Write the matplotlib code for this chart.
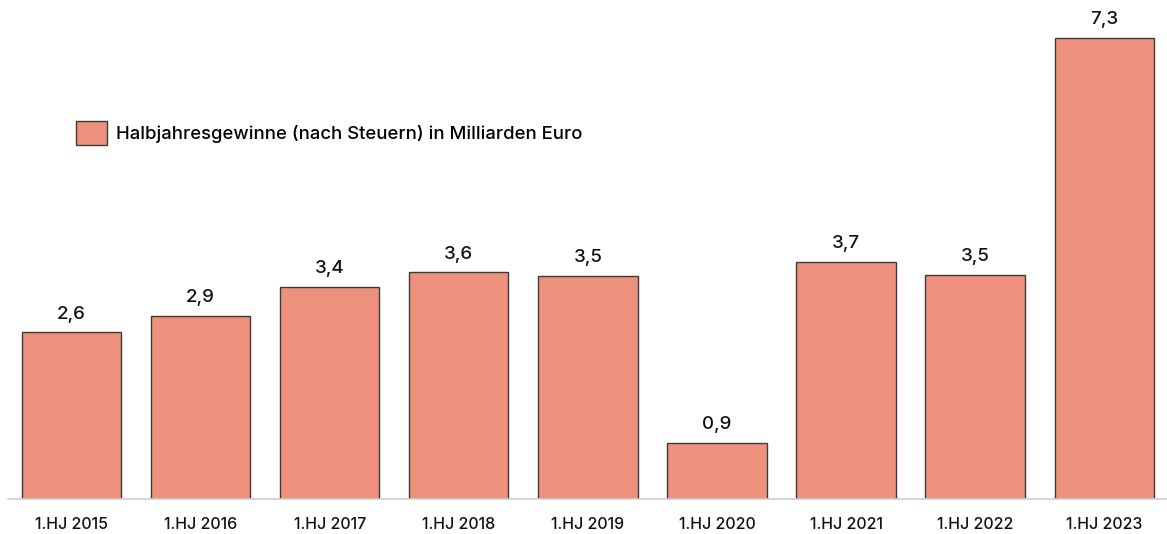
import matplotlib.pyplot as plt
import numpy as np

plt.rcParams['font.family'] = ['Inter', 'DejaVu Sans']

categories = ['1.HJ 2015', '1.HJ 2016', '1.HJ 2017', '1.HJ 2018', '1.HJ 2019',
              '1.HJ 2020', '1.HJ 2021', '1.HJ 2022', '1.HJ 2023']
# bar heights, labels as printed
values = [2.64, 2.90, 3.36, 3.59, 3.53, 0.89, 3.75, 3.55, 7.3]
value_labels = ['2,6', '2,9', '3,4', '3,6', '3,5', '0,9', '3,7', '3,5', '7,3']
series_name = 'Halbjahresgewinne (nach Steuern) in Milliarden Euro'

fig = plt.figure(figsize=(11.67, 5.34), dpi=100)
ax = fig.add_axes([8 / 1167, 35 / 534, 1 - 8 / 1167, 499 / 534])

x = np.arange(len(categories))
bars = ax.bar(x, values, width=0.77, color='#EE917C', edgecolor='#3a3a3a',
              linewidth=1.0, label=series_name)

ax.bar_label(bars, labels=value_labels, padding=7, fontsize=13.5,
             color='#111111', fontweight='medium')

ax.set_xlim(-0.492, 8.486)
ax.set_ylim(0, 7.9)
ax.set_xticks(x)
ax.set_xticklabels(categories, fontsize=11.5, color='#111111', fontweight='medium')
ax.tick_params(axis='x', length=0, pad=13)
ax.set_yticks([])
for side in ['top', 'right', 'left']:
    ax.spines[side].set_visible(False)
ax.spines['bottom'].set_color('#d0d0d0')
ax.spines['bottom'].set_linewidth(1.2)

ax.legend(loc='upper left', bbox_to_anchor=(0.0587, 0.758), frameon=False,
          prop={'size': 13.3, 'weight': 'medium'}, handlelength=1.65,
          handleheight=1.65, handletextpad=0.5, borderpad=0, borderaxespad=0)

fig.savefig('out.png', dpi=100)
